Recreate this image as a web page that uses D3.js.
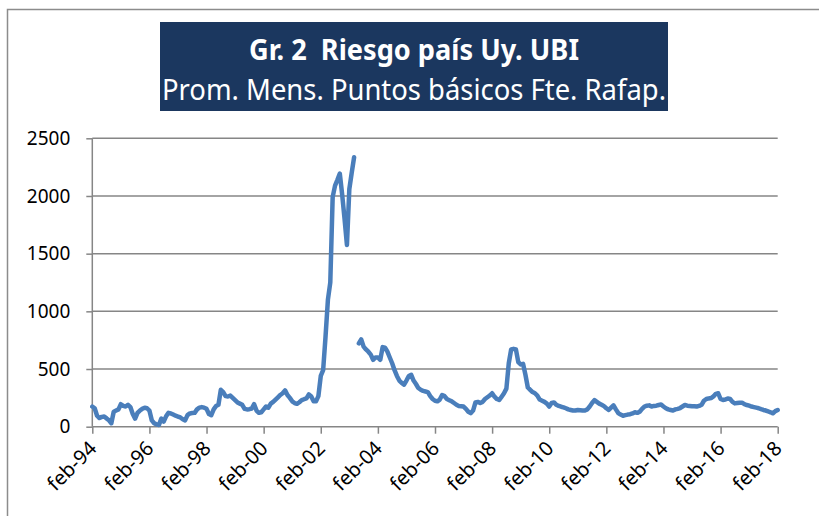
<!DOCTYPE html>
<html>
<head>
<meta charset="utf-8">
<script src="https://cdn.jsdelivr.net/npm/d3@7"></script>
<style>
    body { margin: 0; background: #fff; }
    svg { display: block; }
</style>
</head>
<body>
<div id="chart"></div>
<script>
// textos
const titulo = 'Gr. 2  Riesgo país Uy. UBI';
const subtitulo = 'Prom. Mens. Puntos básicos Fte. Rafap.';

// serie mensual feb-94 .. feb-18 (null = mayo 2003, sin dato)
const riesgoPais = [
    175, 160, 95, 75, 85, 88, 72, 55, 30, 130,
    140, 150, 195, 180, 175, 190, 170, 110, 70, 120,
    140, 155, 165, 160, 140, 55, 30, 20, 15, 70,
    45, 90, 120, 115, 105, 95, 88, 80, 65, 55,
    100, 115, 118, 120, 150, 165, 170,
    165, 155, 110, 100, 150, 180, 190, 320, 300, 265,
    262, 270, 250, 230, 210, 200, 190, 155, 150, 152,
    158, 195, 140, 120, 125, 150, 175, 165, 200, 215,
    235, 255, 275, 290, 315, 275, 250, 220, 205, 198,
    212, 230, 238, 245, 280, 262, 220, 220, 265, 440,
    490, 780, 1100, 1250, 1990, 2090, 2140, 2195, 2010, 1800,
    1575, 2060, 2200, 2335,
    null,
    722, 757, 694, 670, 650, 625, 580, 600, 600, 580,
    690, 685, 650, 600, 550, 490, 440, 400, 380, 365,
    400, 440, 450, 400, 370, 335, 320, 310, 305, 300,
    265, 240, 225, 220, 235, 275, 265, 240, 230, 220,
    205, 190, 180, 178, 175, 155, 130, 118, 140, 210,
    215, 205, 215, 240, 255, 270, 290, 260, 240, 231,
    260, 290, 330, 550, 670, 675, 670, 560, 540, 545,
    450, 340, 320, 300, 290, 270, 235, 225, 215, 200,
    175, 205, 210, 190, 180, 173, 168, 160, 150, 145,
    140, 140, 145, 143, 140, 140, 150, 175, 205, 230,
    215, 200, 190, 178, 160, 145, 165, 185, 150, 118,
    105, 95, 100, 105, 108, 115, 125, 120, 130, 155,
    175, 182, 185, 175, 180, 182, 188, 192, 175, 160,
    150, 145, 140, 150, 155, 162, 175, 188, 182, 180,
    178, 178, 175, 180, 190, 225, 240, 245, 248, 262,
    285, 290, 240, 232, 235, 245, 240, 215, 202, 205,
    208, 208, 195, 188, 182, 175, 170, 165, 160, 152,
    145, 140, 132, 125, 116, 135, 145
];

const yTicks = [0, 500, 1000, 1500, 2000, 2500];
const xTickLabels = ['feb-94', 'feb-96', 'feb-98', 'feb-00', 'feb-02', 'feb-04', 'feb-06',
    'feb-08', 'feb-10', 'feb-12', 'feb-14', 'feb-16', 'feb-18'];

const W = 819, H = 516;
const plotL = 92.3, plotR = 777.7, plotT = 138.3, plotB = 426.7;
const gris = '#868686';
const azul = '#4a7ebb';

const svg = d3.select('#chart')
    .append('svg')
    .attr('width', W)
    .attr('height', H)
    .style('font-family', '"Noto Sans", "DejaVu Sans", sans-serif');

// marco exterior
svg.append('rect')
    .attr('x', 7.5).attr('y', 9.5)
    .attr('width', 900).attr('height', 600)
    .attr('fill', '#fff')
    .attr('stroke', '#8c8c8c')
    .attr('stroke-width', 1.5);

// caja del titulo
svg.append('rect')
    .attr('x', 160).attr('y', 22)
    .attr('width', 508).attr('height', 89)
    .attr('fill', '#1b375f');

svg.append('text')
    .attr('x', 414).attr('y', 60)
    .attr('text-anchor', 'middle')
    .attr('fill', '#fff')
    .attr('font-size', 29)
    .attr('font-weight', 'bold')
    .style('white-space', 'pre')
    .attr('textLength', 330)
    .attr('lengthAdjust', 'spacingAndGlyphs')
    .text(titulo);

svg.append('text')
    .attr('x', 414).attr('y', 100)
    .attr('text-anchor', 'middle')
    .attr('fill', '#fff')
    .attr('font-size', 29)
    .attr('textLength', 504)
    .attr('lengthAdjust', 'spacingAndGlyphs')
    .text(subtitulo);

// escalas
const xScale = d3.scaleLinear()
    .domain([0, riesgoPais.length - 1])
    .range([plotL, plotR]);

const yScale = d3.scaleLinear()
    .domain([0, 2500])
    .range([plotB, plotT]);

// grilla horizontal
svg.append('g')
    .selectAll('line')
    .data(yTicks.slice(1))
    .enter()
    .append('line')
    .attr('x1', plotL).attr('x2', plotR)
    .attr('y1', d => yScale(d)).attr('y2', d => yScale(d))
    .attr('stroke', gris)
    .attr('stroke-width', 1.5);

// eje y
const yAx = svg.append('g')
    .attr('transform', `translate(${plotL}, 0)`)
    .call(d3.axisLeft(yScale)
        .tickValues(yTicks)
        .tickSize(6)
        .tickPadding(16)
        .tickFormat(d3.format('d')));

yAx.select('.domain').attr('stroke', gris).attr('stroke-width', 1.5).attr('d', `M0,${plotT}V${plotB}`);
yAx.selectAll('.tick line').attr('stroke', gris).attr('stroke-width', 1.5);
yAx.selectAll('.tick text')
    .attr('fill', '#000')
    .attr('font-size', 19)
    .attr('font-family', '"Noto Sans", sans-serif');

// eje x
const xAx = svg.append('g')
    .attr('transform', `translate(0, ${plotB})`)
    .call(d3.axisBottom(xScale)
        .tickValues(d3.range(0, riesgoPais.length, 24))
        .tickSize(7)
        .tickFormat((d, i) => xTickLabels[i]));

xAx.select('.domain').attr('stroke', gris).attr('stroke-width', 1.5).attr('d', `M${plotL},0H${plotR}`);
xAx.selectAll('.tick line').attr('stroke', gris).attr('stroke-width', 1.5);
xAx.selectAll('.tick text')
    .attr('fill', '#000')
    .attr('font-size', 20)
    .attr('font-family', '"Noto Sans", sans-serif')
    .attr('x', 0).attr('y', 0).attr('dy', null)
    .attr('text-anchor', 'end')
    .attr('transform', 'translate(5, 23) rotate(-45)');

// linea
const lineMaker = d3.line()
    .defined(d => d !== null)
    .x((d, i) => xScale(i))
    .y(d => yScale(d));

svg.append('path')
    .datum(riesgoPais)
    .attr('d', lineMaker)
    .attr('fill', 'none')
    .attr('stroke', azul)
    .attr('stroke-width', 4.5)
    .attr('stroke-linejoin', 'round')
    .attr('stroke-linecap', 'round');
</script>
</body>
</html>
